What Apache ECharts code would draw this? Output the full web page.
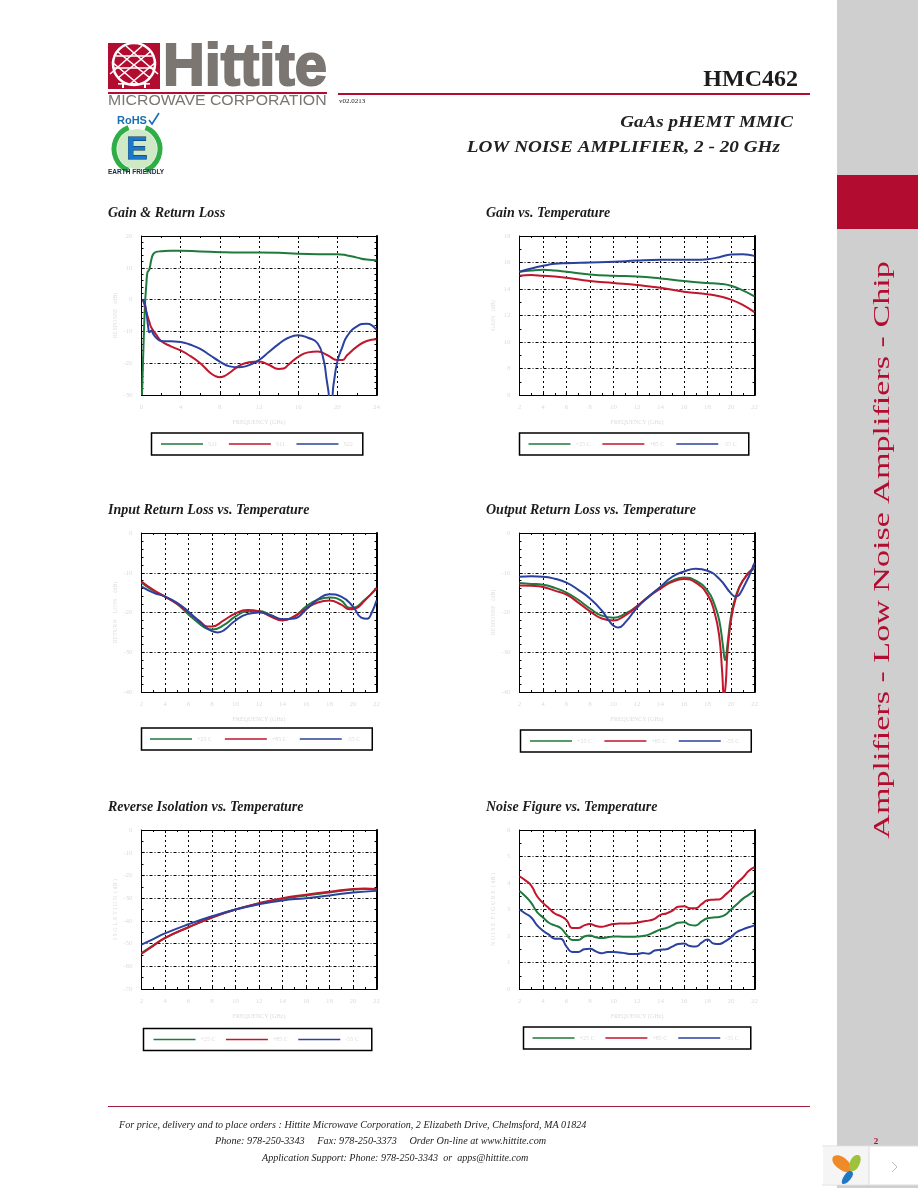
<!DOCTYPE html>
<html><head><meta charset="utf-8">
<style>html,body{margin:0;padding:0;background:#fff}#c{width:918px;height:1188px}</style>
<script src="https://cdn.jsdelivr.net/npm/echarts@6/dist/echarts.min.js"></script>
</head><body><div id="c"></div>
<script>
// ---- chart values: [frequency GHz, value] ----
const titles = ['Gain & Return Loss','Gain vs. Temperature','Input Return Loss vs. Temperature','Output Return Loss vs. Temperature','Reverse Isolation vs. Temperature','Noise Figure vs. Temperature'];
const yNames = ['RESPONSE   (dB)','GAIN   (dB)','RETURN    LOSS    (dB)','RESPONSE   (dB)','I S O L A T I O N  ( dB )','N O I S E  F I G U R E  ( dB )'];
const xName = 'FREQUENCY (GHz)';
const tempNames = ['+25 C','+85 C','-55 C'];
const sNames = ['S21','S11','S22'];

const gainS21 = [[0.05,-30],[0.2,-15],[0.35,-2],[0.5,5],[0.6,8.5],[0.8,9.5],[1,12.5],[1.2,14.3],[1.5,15],[2,15.2],[3,15.4],[4,15.4],[6,15.1],[8,14.9],[10,14.8],[12,14.8],[14,14.7],[16,14.4],[18,14.3],[20,14.3],[21,13.9],[22,13.2],[23,12.6],[24,12.4]];
const gainS11 = [[0.1,0],[0.3,-1.5],[0.5,-4],[0.8,-7],[1,-8.8],[1.5,-11],[2,-13],[3,-14.7],[4,-16],[5,-17.8],[6,-20],[7,-23],[7.5,-24],[8,-24.4],[8.5,-24],[9,-23],[10,-20.8],[11,-19.7],[12,-19.5],[13,-20.5],[14,-21.8],[14.5,-21.7],[15,-20.5],[16,-18],[17,-16.6],[18,-16.3],[19,-17.5],[20,-19],[20.5,-19],[21,-17.5],[22,-14.8],[23,-13],[24,-12.5]];
const gainS22 = [[0.1,0],[0.3,-0.8],[0.5,-4],[0.7,-9],[0.8,-10.3],[1,-9.8],[1.2,-10.8],[1.5,-12],[2,-13],[3,-13.1],[4,-13.3],[5,-14.2],[6,-15.5],[7,-17.5],[8,-19.5],[9,-21],[10,-21.3],[11,-20.6],[12,-19],[13,-16.5],[14,-14],[15,-12],[16,-11.2],[17,-12],[18,-13.8],[18.6,-19],[18.9,-25],[19.1,-29],[19.2,-31],[19.4,-31],[19.6,-27],[20,-19.5],[20.5,-15],[21,-11.5],[22,-8.4],[23,-7.6],[23.5,-8],[24,-9.5]];

const tempGain25 = [[2,15.3],[3,15.4],[4,15.45],[5,15.4],[6,15.3],[8,15.1],[10,15],[12,14.95],[14,14.8],[16,14.6],[18,14.45],[19,14.4],[20,14.25],[21,13.9],[22,13.45]];
const tempGain85 = [[2,15],[3,15.05],[4,15],[5,14.95],[6,14.85],[8,14.6],[10,14.45],[12,14.3],[14,14.1],[16,13.8],[18,13.6],[19,13.45],[20,13.2],[21,12.8],[22,12.25]];
const tempGain55 = [[2,15.3],[3,15.55],[4,15.75],[5,15.9],[6,15.95],[8,16],[10,16.05],[12,16.15],[14,16.2],[16,16.2],[17,16.2],[18,16.25],[19,16.4],[20,16.6],[21,16.62],[22,16.5]];

const inRl25 = [[2,-12.5],[3,-14.5],[4,-16],[5,-17.8],[6,-20.5],[7,-23],[7.5,-24],[8,-24.3],[9,-23.2],[10,-21],[11,-19.7],[12,-19.6],[13,-20.7],[14,-21.8],[15,-21],[16,-18.5],[17,-16.8],[18,-16.2],[19,-17],[19.7,-18.8],[20,-18.8],[21,-16.8],[22,-14]];
const inRl85 = [[2,-12.2],[3,-14.3],[4,-16],[5,-17.8],[6,-20],[7,-22.3],[7.6,-23.5],[8,-23.5],[9,-22],[10,-20.2],[11,-19.4],[12,-19.7],[13,-21],[14,-22],[15,-21],[16,-19],[17,-17.5],[18,-17],[19,-18],[19.7,-19.2],[20.2,-19],[21,-17],[22,-13.8]];
const inRl55 = [[2,-13.5],[3,-15],[4,-16],[5,-17.5],[6,-19.8],[7,-22.5],[8,-24.7],[8.5,-25],[9,-24.5],[10,-22],[11,-20.4],[12,-20],[13,-20.7],[14,-21.7],[15,-21.5],[16,-19.3],[17,-16.7],[18,-15.4],[19,-16],[20,-18.5],[20.7,-21.3],[21.2,-21.6],[21.6,-20],[22,-17]];

const outRl25 = [[2,-12.6],[3,-12.8],[4,-13],[5,-13.8],[6,-15],[7,-16.8],[8,-19],[9,-20.8],[10,-21.3],[11,-20.3],[12,-18.5],[13,-16],[14,-13.7],[15,-12],[16,-11.2],[17,-12],[18,-14.5],[18.6,-18],[19,-22],[19.3,-28],[19.5,-32],[19.7,-28],[20,-21],[20.4,-16],[21,-12],[22,-8.8]];
const outRl85 = [[2,-13.2],[3,-13.3],[4,-13.6],[5,-14.5],[6,-15.5],[7,-17.5],[8,-19.7],[9,-21.5],[10,-22],[11,-20.7],[12,-18.4],[13,-16],[14,-14],[15,-12.3],[16,-11.6],[17,-12.5],[18,-15.5],[18.6,-20],[19,-26],[19.25,-35],[19.4,-41],[19.55,-38],[19.7,-30],[20,-22],[20.4,-16.5],[21,-12],[22,-8.5]];
const outRl55 = [[2,-11],[3,-10.9],[4,-11],[5,-11.5],[6,-12.5],[7,-14.3],[8,-16.5],[9,-19.5],[9.6,-22],[10,-23.3],[10.4,-23.8],[11,-22.5],[12,-18.8],[13,-16],[14,-13.5],[15,-11],[16,-9.7],[17,-9],[18,-9.5],[19,-11.5],[20,-15.2],[20.4,-16],[21,-14],[22,-7.5]];

const iso25 = [[2,-54.2],[3,-50.8],[4,-47.6],[6,-42.8],[8,-38.5],[10,-35],[12,-32.4],[14,-30.3],[16,-28.8],[18,-27.5],[20,-26.2],[21,-26],[22,-26.2]];
const iso85 = [[2,-54.5],[3,-51],[4,-47.5],[6,-42.8],[8,-38.5],[10,-35],[12,-32.2],[14,-30],[16,-28.5],[18,-27.2],[20,-26],[21,-25.8],[22,-26]];
const iso55 = [[2,-50.5],[3,-48],[4,-45.5],[6,-41.5],[8,-38],[10,-35],[12,-32.7],[14,-31],[16,-30],[18,-28.8],[20,-27.5],[22,-26.8]];

const nfFreq = [2,2.5,3,3.5,4,4.5,5,5.5,6,6.5,7,7.5,8,8.5,9,9.5,10,10.5,11,11.5,12,12.5,13,13.5,14,14.5,15,15.5,16,16.5,17,17.5,18,18.5,19,19.5,20,20.5,21,21.5,22];
const nf85 = [4.25,4.1,3.9,3.5,3.25,3.05,2.85,2.75,2.6,2.3,2.3,2.4,2.45,2.38,2.35,2.4,2.45,2.47,2.47,2.48,2.5,2.55,2.58,2.65,2.8,2.85,2.95,3.1,3.12,3.05,3.05,3.2,3.35,3.37,3.38,3.55,3.75,4.0,4.2,4.45,4.6];
const nf25 = [3.7,3.5,3.25,2.9,2.7,2.5,2.4,2.3,2.05,1.85,1.85,1.98,2.02,1.95,1.92,1.95,1.98,1.98,1.97,1.97,1.98,2.0,2.05,2.15,2.25,2.3,2.4,2.5,2.52,2.42,2.4,2.55,2.67,2.7,2.72,2.8,3.0,3.2,3.4,3.55,3.72];
const nf55 = [3.0,2.85,2.7,2.4,2.2,2.05,1.9,1.9,1.6,1.4,1.4,1.5,1.52,1.42,1.35,1.4,1.4,1.38,1.35,1.32,1.32,1.36,1.33,1.45,1.48,1.5,1.6,1.7,1.72,1.62,1.6,1.75,1.87,1.72,1.7,1.8,1.95,2.15,2.25,2.33,2.4];
const zipNf = ys => ys.map((v,i)=>[nfFreq[i],v]);

const chartSeries = [
  [gainS21,gainS11,gainS22],
  [tempGain25,tempGain85,tempGain55],
  [inRl25,inRl85,inRl55],
  [outRl25,outRl85,outRl55],
  [iso25,iso85,iso55],
  [zipNf(nf25),zipNf(nf85),zipNf(nf55)]
];
const xScales = [[0,24,4],[2,22,2],[2,22,2],[2,22,2],[2,22,2],[2,22,2]];
const yScales = [[-30,20,10,5],[6,18,2,2],[-40,0,10,5],[-40,0,10,5],[-70,0,10,2],[0,6,1,2]];

// ---- layout ----
const GREEN='#1f7a3d', RED='#c1162c', BLUE='#2b419f', FAINT='#dcdcdc', SERIF='"Liberation Serif",serif', SANS='"Liberation Sans",sans-serif';
const colours=[GREEN,RED,BLUE];
const plots=[[141.5,236,235,159],[519.5,236,235,159],[141.5,533,235,159],[519.5,533,235,159],[141.5,830,235,159],[519.5,830,235,159]];
const titlePos=[[108,206],[486,206],[108,503],[486,503],[108,800],[486,800]];
// box left, top, padding-left, padding-right, gap
const legendPos=[[151.5,433,9.5,10,11.5],[519.5,433,9,12,12],[141.5,728,8.5,12,13],[520.5,730,9.5,12,12.5],[143.5,1028.5,10,13,10.5],[523.5,1027,9,12,11]];

const grid=[],xAxis=[],yAxis=[],series=[],title=[],legend=[];
plots.forEach((p,i)=>{
  grid.push({left:p[0],top:p[1],width:p[2],height:p[3],show:false});
  const [xmin,xmax,xint]=xScales[i], [ymin,ymax,yint,ymin2]=yScales[i];
  const line=w=>({show:true,onZero:false,lineStyle:{color:'#000',width:w}});
  const tick={show:true,inside:true,length:3,lineStyle:{color:'#000',width:1}};
  const minor=n=>({show:true,splitNumber:n,length:2,lineStyle:{color:'#000',width:1}});
  xAxis.push({type:'value',gridIndex:i,min:xmin,max:xmax,interval:xint,position:'bottom',name:xName,nameLocation:'middle',nameGap:24,
    nameTextStyle:{color:FAINT,fontSize:6,fontFamily:SERIF},axisLine:line(1),axisTick:tick,minorTick:minor(2),
    axisLabel:{color:FAINT,fontSize:7,fontFamily:SERIF,margin:9,showMinLabel:true,showMaxLabel:true},
    splitLine:{show:true,lineStyle:{color:'#000',width:1,type:[2,3]}},minorSplitLine:{show:false}});
  xAxis.push({type:'value',gridIndex:i,min:xmin,max:xmax,interval:xint,position:'top',axisLine:line(1),axisTick:tick,minorTick:minor(2),axisLabel:{show:false},splitLine:{show:false}});
  yAxis.push({type:'value',gridIndex:i,min:ymin,max:ymax,interval:yint,position:'left',name:yNames[i],nameLocation:'middle',nameRotate:90,nameGap:23,
    nameTextStyle:{color:FAINT,fontSize:6,fontFamily:SERIF},axisLine:line(1),axisTick:tick,minorTick:minor(ymin2),
    axisLabel:{color:FAINT,fontSize:7,fontFamily:SERIF,margin:9,showMinLabel:true,showMaxLabel:true},
    splitLine:{show:true,lineStyle:{color:'#000',width:1,type:[3,2,1,2]}},minorSplitLine:{show:false}});
  yAxis.push({type:'value',gridIndex:i,min:ymin,max:ymax,interval:yint,position:'right',axisLine:line(2),axisTick:tick,minorTick:minor(ymin2),axisLabel:{show:false},splitLine:{show:false}});
  const names=i===0?sNames:tempNames;
  chartSeries[i].forEach((d,k)=>series.push({type:'line',name:names[k],data:d,xAxisIndex:i*2,yAxisIndex:i*2,smooth:0.5,symbol:'none',silent:true,animation:false,
    lineStyle:{color:colours[k],width:2},itemStyle:{color:colours[k]},clip:true}));
  title.push({text:titles[i],left:titlePos[i][0],top:titlePos[i][1],padding:0,textStyle:{fontFamily:SERIF,fontStyle:'italic',fontWeight:'bold',fontSize:14,color:'#1c1c1c'}});
  const L=legendPos[i];
  legend.push({show:true,left:L[0],top:L[1],orient:'horizontal',data:names.map(name=>({name,icon:'rect'})),itemWidth:42,itemHeight:1.5,itemGap:L[4],padding:[8,L[3],8,L[2]],
    borderColor:'#000',borderWidth:1.5,selectedMode:false,textStyle:{color:FAINT,fontSize:6,fontFamily:SERIF}});
});

// ---- page furniture ----
const txt=(text,x,y,font,fill,opt={})=>Object.assign({type:'text',x,y,silent:true,z:10,style:{text,font,fill,align:opt.align||'left',verticalAlign:'middle'}},opt.el||{});
const rect=(x,y,w,h,fill,z=5)=>({type:'rect',silent:true,z,shape:{x,y,width:w,height:h},style:{fill}});
const ln=(a,b,c,d,stroke,lw,z=8)=>({type:'line',silent:true,z,shape:{x1:a,y1:b,x2:c,y2:d},style:{stroke,lineWidth:lw}});
const petal=(points,fill)=>({type:'polygon',silent:true,z:22,shape:{points,smooth:0.6},style:{fill}});
const CRIM='#b20d30';
const g=[];
// side bar
g.push(rect(837,0,81,1188,'#cfcfcf',1),rect(837,175,81,54,CRIM,2));
g.push(txt('Amplifiers - Low Noise Amplifiers - Chip',883,550,'24px '+SERIF,CRIM,{align:'center',el:{rotation:Math.PI/2,scaleX:1.42}}));
g.push(txt('2',876,1142,'bold 9px '+SERIF,CRIM,{align:'center'}));
// widget
g.push(rect(822,1146,96,39,'#ffffff',20),rect(823,1147,46,37,'#f5f5f5',21),rect(868.5,1146,1,39,'#dddddd',21));
g.push(ln(822,1146,918,1146,'#dddddd',1,21),ln(822,1185,918,1185,'#dddddd',1,21));
g.push(petal([[832.5,1158],[843,1157],[851,1170],[841,1170]],'#ef8a2b'));
g.push(petal([[858,1155],[860,1163],[852,1171],[850,1162]],'#9fc23c'));
g.push(petal([[851,1171],[852,1177],[843,1184],[844,1176]],'#1f78c1'));
g.push({type:'polyline',silent:true,z:22,shape:{points:[[892,1162],[897,1167],[892,1172]]},style:{stroke:'#bbbbbb',lineWidth:1,fill:'none'}});
// header
g.push(rect(108,43,52,46,CRIM));
g.push({type:'circle',silent:true,z:6,shape:{cx:134,cy:64,r:21},style:{fill:'none',stroke:'#fff',lineWidth:2.5}});
[[118,52,150,78],[126,46,158,74],[112,62,138,84],[150,52,118,78],[142,46,110,74],[156,62,130,84],[113,68,155,68],[116,56,152,56]].forEach(a=>g.push(ln(a[0],a[1],a[2],a[3],'#fff',1.6,6)));
g.push(rect(118,83,32,1.6,'#fff',6),rect(122,83,2,5,'#fff',6),rect(144,83,2,5,'#fff',6));
g.push({type:'text',x:163,y:69,scaleX:.98,silent:true,z:10,style:{text:'Hittite',font:'bold 59px '+SANS,fill:'#7b7672',stroke:'#7b7672',lineWidth:2,align:'left',verticalAlign:'middle'}});
g.push(rect(108,92,219,2,CRIM),rect(338,93,472,2,CRIM));
g.push(txt('MICROWAVE CORPORATION',108,101,'14px '+SANS,'#7b7672',{el:{scaleX:1.13}}));
g.push(txt('v02.0213',339,101.5,'7px '+SERIF,'#222'));
g.push(txt('HMC462',798,80,'bold 24px '+SERIF,'#1c1c1c',{align:'right'}));
g.push(txt('GaAs pHEMT MMIC',793,122,'italic bold 17.5px '+SERIF,'#222',{align:'right',el:{scaleX:1.09}}));
g.push(txt('LOW NOISE AMPLIFIER, 2 - 20 GHz',780,147.5,'italic bold 17.5px '+SERIF,'#222',{align:'right',el:{scaleX:1.098}}));
// RoHS badge
g.push(txt('RoHS',117,121,'bold 11px '+SANS,'#1b6fb0'));
g.push({type:'polyline',silent:true,z:10,shape:{points:[[149,120],[152,124],[159,113]]},style:{stroke:'#1b6fb0',lineWidth:1.6,fill:'none'}});
g.push({type:'circle',silent:true,z:6,shape:{cx:137,cy:149,r:20},style:{fill:'#cfe9c6'}});
g.push({type:'arc',silent:true,z:7,shape:{cx:137,cy:149,r:23,startAngle:Math.PI*0.62,endAngle:Math.PI*1.38},style:{stroke:'#2fae48',lineWidth:5,fill:'none'}});
g.push({type:'arc',silent:true,z:7,shape:{cx:137,cy:149,r:23,startAngle:-Math.PI*0.38,endAngle:Math.PI*0.38},style:{stroke:'#2fae48',lineWidth:5,fill:'none'}});
g.push({type:'text',x:137,y:150,silent:true,z:10,style:{text:'E',font:'bold 32px '+SANS,fill:'#1b78c8',stroke:'#0a2a55',lineWidth:.8,align:'center',verticalAlign:'middle'}});
g.push(txt('EARTH FRIENDLY',108,172,'bold 6.5px '+SANS,'#1a2b44'));
// footer
g.push(rect(108,1106,702,1,'#a01c3c'));
g.push(txt('For price, delivery and to place orders : Hittite Microwave Corporation, 2 Elizabeth Drive, Chelmsford, MA 01824',119,1125,'italic 10px '+SERIF,'#222',{el:{scaleX:1.01}}));
g.push(txt('Phone: 978-250-3343     Fax: 978-250-3373     Order On-line at www.hittite.com',215,1141,'italic 10px '+SERIF,'#222',{el:{scaleX:1.018}}));
g.push(txt('Application Support: Phone: 978-250-3343  or  apps@hittite.com',262,1158,'italic 10px '+SERIF,'#222',{el:{scaleX:1.008}}));

const chart=echarts.init(document.getElementById('c'),null,{renderer:'canvas',width:918,height:1188});
chart.setOption({backgroundColor:'#ffffff',animation:false,title,grid,xAxis,yAxis,series,legend,graphic:{elements:g}});
</script></body></html>
